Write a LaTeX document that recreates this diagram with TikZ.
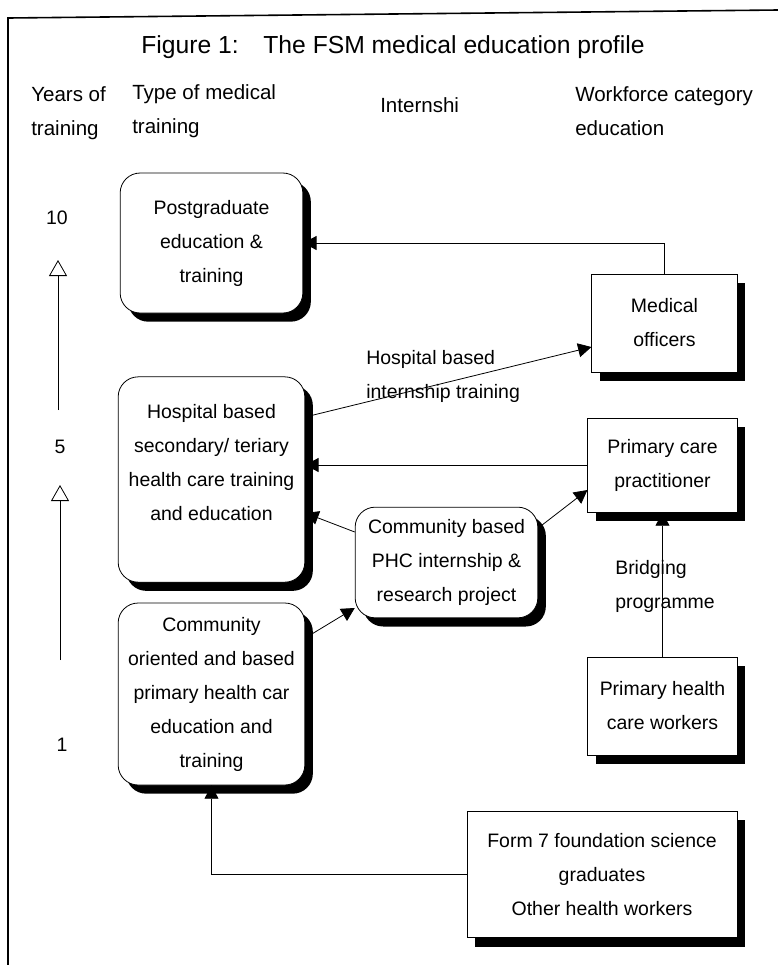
\documentclass[tikz,border=0pt]{standalone}
\usepackage{fontspec}
\setmainfont{Liberation Sans}
\usetikzlibrary{arrows.meta,shadows,positioning}

\tikzset{
  bodytext/.style={font=\fontsize{14.6}{25.5}\selectfont},
  headtext/.style={font=\fontsize{15.4}{25.5}\selectfont, align=left, anchor=west, inner sep=0pt},
  roundbox/.style={draw, fill=white, rounded corners=15pt, align=center, bodytext, inner sep=2pt,
    line width=0.6pt,
    drop shadow={shadow xshift=6pt, shadow yshift=-6.5pt, fill=black, opacity=1}},
  sqbox/.style={roundbox, sharp corners},
  conn/.style={-{Triangle[length=10pt,width=10.5pt]}, line width=0.6pt},
  yeararrow/.style={-{Triangle[open,length=12pt,width=13.5pt]}, line width=0.6pt},
}

\begin{document}
\begin{tikzpicture}[x=0.75pt, y=-0.75pt]
    \useasboundingbox (0,0) rectangle (778,965);

    % Frame
    \draw[line width=1.2pt] (778,10) -- (8,18) -- (8,965);

    % Title and headings
    \node[font=\fontsize{18.5}{22}\selectfont] (title) at (393,47) {Figure 1:\hspace{1em}The FSM medical education profile};
    \node[headtext] (hyears) at (31,113) {Years of\\training};
    \node[headtext] (htype) at (132,111) {Type of medical\\training};
    \node[headtext] (hintern) at (380,105) {Internshi};
    \node[headtext] (hwork) at (575,111) {Workforce category\\education};

    % Years of training
    \node[bodytext] (y10) at (57,218) {10};
    \node[bodytext] (y5) at (60,447) {5};
    \node[bodytext] (y1) at (62,745) {1};
    \coordinate (up10a) at (58,410);
    \coordinate (up10b) at (58,260);
    \coordinate (up5a) at (60,660);
    \coordinate (up5b) at (60,485);
    \draw[yeararrow] (up10a) -- (up10b);
    \draw[yeararrow] (up5a) -- (up5b);

    % Type of medical training
    \node[roundbox, minimum width=137pt, minimum height=105pt] (post) at (211.5,243) {Postgraduate\\education \&\\training};
    \node[roundbox, minimum width=140pt, minimum height=154pt] (hosp) at (211.5,479.5) {Hospital based\\secondary/ teriary\\health care training\\and education\\\mbox{}};
    \node[roundbox, minimum width=140pt, minimum height=136.5pt] (comm) at (211.5,694) {Community\\oriented and based\\primary health car\\education and\\training};

    % Internship
    \node[roundbox, minimum width=137pt, minimum height=83pt] (phc) at (446.5,562.5) {Community based\\PHC internship \&\\research project};

    % Workforce category
    \node[sqbox, minimum width=109pt, minimum height=73.5pt] (med) at (664.5,323) {Medical\\officers};
    \node[sqbox, minimum width=112pt, minimum height=70.5pt] (pcp) at (662.5,465) {Primary care\\practitioner};
    \node[sqbox, minimum width=112pt, minimum height=73.5pt] (phw) at (662.5,706) {Primary health\\care workers};
    \node[sqbox, minimum width=202.5pt, minimum height=95pt] (form) at (602,874.5) {Form 7 foundation science\\graduates\\Other health workers};

    % Connector labels
    \node[bodytext, align=left, anchor=west, inner sep=0pt] (hosplbl) at (366,376) {Hospital based\\internship training};
    \node[bodytext, align=left, anchor=west, inner sep=0pt] (bridgelbl) at (615,586) {Bridging\\programme};

    % Connectors
    \draw[conn] (med.north) |- (post.east);
    \draw[conn] (hosp.east |- 0,417) -- (med.west |- 0,347);
    \draw[conn] (pcp.west) -- (pcp.west -| hosp.east);
    \draw[conn] (phc.west |- 0,532) -- (hosp.east |- 0,513);
    \draw[conn] (phc.east |- 0,528) -- (pcp.west |- 0,490);
    \draw[conn] (comm.east |- 0,638) -- (phc.west |- 0,608);
    \draw[conn] (phw.north) -- (pcp.south);
    \draw[conn] (form.west) -| (comm.south);

\end{tikzpicture}
\end{document}
